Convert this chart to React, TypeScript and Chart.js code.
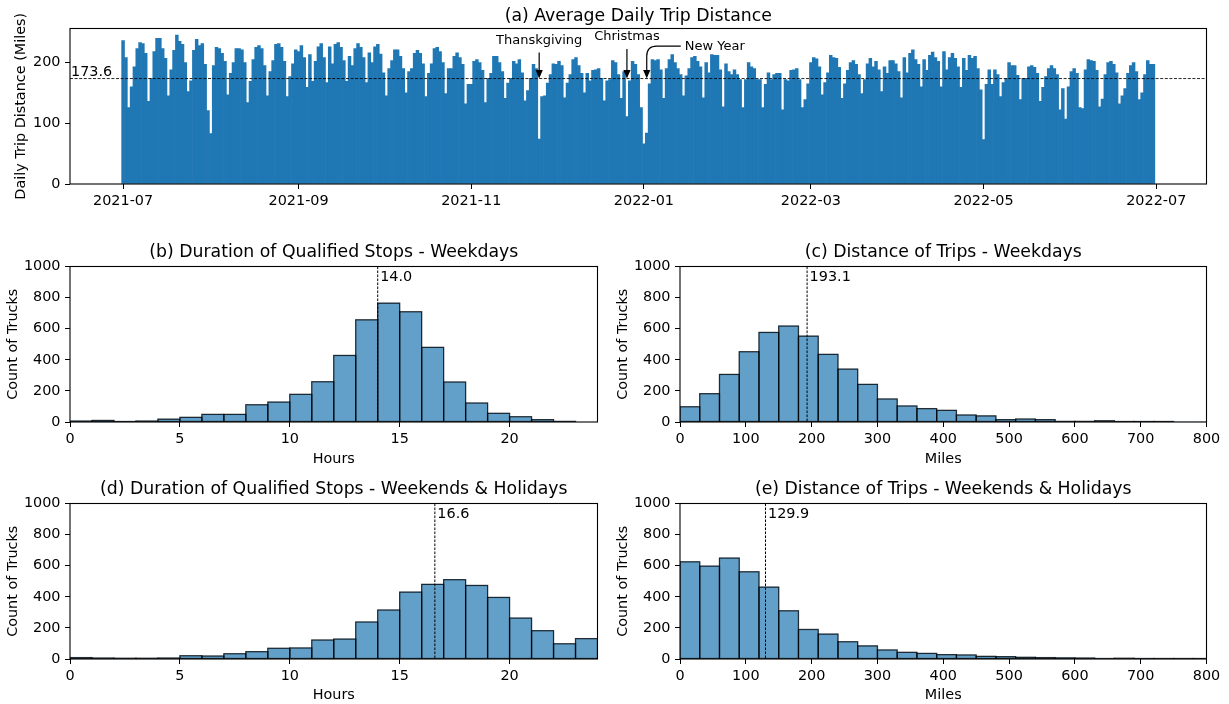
import React, { useEffect, useRef } from 'react';
import { Chart, registerables } from 'chart.js';

Chart.register(...registerables);

const PAGE_W = 1229;
const PAGE_H = 704;
const FONT = "'DejaVu Sans', 'Liberation Sans', sans-serif";

// ---------------- data ----------------
const firstDay = '2021-07-01';

const dailyTripDistance = [
  // Jul 2021
  236, 208, 126, 160, 193, 223, 233, 231, 215, 136, 174, 218, 240, 240, 223, 207, 145, 188, 220, 245,
  235, 230, 200, 152, 170, 220, 238, 228, 231, 197, 121,
  // Aug
  83, 195, 225, 223, 215, 202, 147, 182, 200, 223, 223, 221, 200, 134, 169, 205, 225, 228, 223, 195,
  145, 185, 203, 230, 231, 225, 202, 144, 177, 198, 221,
  // Sep
  218, 228, 208, 159, 213, 169, 202, 226, 231, 208, 167, 226, 198, 230, 233, 225, 203, 169, 210, 195,
  223, 231, 225, 208, 167, 216, 200, 226, 230, 214,
  // Oct
  183, 145, 190, 203, 221, 221, 210, 190, 150, 185, 190, 215, 220, 215, 198, 144, 182, 198, 223, 225,
  218, 200, 149, 190, 190, 210, 216, 208, 197, 132, 164,
  // Nov
  164, 202, 205, 200, 187, 134, 174, 182, 210, 210, 200, 185, 141, 166, 174, 202, 198, 205, 183, 137,
  154, 174, 197, 190, 74, 144, 145, 166, 180, 198,
  // Dec
  197, 202, 195, 142, 166, 180, 205, 208, 195, 182, 150, 182, 170, 187, 188, 190, 174, 137, 170, 172,
  203, 200, 180, 141, 185, 111, 170, 202, 197, 180, 126,
  // Jan 2022
  66, 84, 165, 205, 203, 205, 188, 141, 190, 205, 213, 200, 190, 180, 145, 178, 190, 208, 210, 202,
  193, 142, 200, 183, 213, 212, 212, 188, 127, 198, 185,
  // Feb
  180, 188, 180, 172, 126, 172, 200, 193, 190, 172, 172, 126, 164, 183, 172, 180, 182, 182, 122, 172,
  170, 187, 188, 190, 172, 126, 139, 165,
  // Mar
  200, 208, 206, 193, 147, 167, 183, 212, 208, 207, 192, 141, 165, 187, 200, 203, 197, 180, 149, 172,
  198, 207, 193, 202, 188, 152, 193, 182, 203, 203, 198,
  // Apr
  185, 142, 208, 183, 215, 221, 205, 197, 160, 205, 187, 212, 217, 208, 202, 160, 218, 188, 208, 215,
  207, 193, 159, 207, 187, 212, 207, 210, 190, 155,
  // May
  73, 164, 188, 164, 188, 180, 144, 167, 174, 200, 195, 195, 179, 139, 174, 174, 193, 195, 192, 182,
  136, 159, 177, 190, 195, 190, 180, 122, 157, 107, 160,
  // Jun
  185, 190, 182, 126, 124, 188, 205, 203, 202, 187, 127, 140, 180, 200, 202, 197, 183, 132, 145, 157,
  182, 195, 200, 185, 139, 150, 180, 203, 197, 197,
];
const meanDailyDistance = 173.6;
const distanceTickValues = [0, 100, 200];
const monthTickLabels = ['2021-07', '2021-09', '2021-11', '2022-01', '2022-03', '2022-05', '2022-07'];
const holidayLabels = ['Thanskgiving', 'Christmas', 'New Year'];
const holidayDayIndex = [147, 178, 185];

const hourBinWidth = 1;
const mileBinWidth = 30;
const weekdayStopHours = [6, 10, 2, 6, 18, 30, 49, 49, 111, 128, 178, 259, 428, 657, 764, 709, 480, 257, 122, 56, 34, 15, 4];
const weekdayTripMiles = [98, 182, 306, 452, 576, 617, 552, 435, 340, 242, 148, 103, 86, 75, 45, 39, 15, 19, 15, 4, 4, 8, 2, 1, 1, 0, 0];
const weekendStopHours = [9, 6, 5, 5, 6, 21, 19, 34, 47, 69, 71, 122, 128, 238, 315, 430, 480, 510, 473, 396, 263, 182, 98, 131];
const weekendTripMiles = [625, 597, 649, 561, 462, 310, 190, 160, 111, 84, 58, 43, 36, 28, 26, 17, 15, 11, 9, 7, 6, 3, 5, 2, 2, 1, 1];
const meanWeekdayStop = 14.0;
const meanWeekdayTrip = 193.1;
const meanWeekendStop = 16.6;
const meanWeekendTrip = 129.9;
const countTickValues = [0, 200, 400, 600, 800, 1000];
const hourTickValues = [0, 5, 10, 15, 20];
const mileTickValues = [0, 100, 200, 300, 400, 500, 600, 700, 800];

// ---------------- helpers ----------------
const dayOffset = (ym: string) => {
  const [y, m] = ym.split('-').map(Number);
  const [y0, m0, d0] = firstDay.split('-').map(Number);
  return Math.round((Date.UTC(y, m - 1, 1) - Date.UTC(y0, m0 - 1, d0)) / 86400000);
};

type Box = { l: number; r: number; t: number; b: number };

const BOX_A: Box = { l: 70, r: 1206.5, t: 28.5, b: 184 };
const BOX_B: Box = { l: 70, r: 597.5, t: 266.5, b: 422 };
const BOX_C: Box = { l: 680, r: 1206.5, t: 266.5, b: 422 };
const BOX_D: Box = { l: 70, r: 597.5, t: 503.5, b: 659 };
const BOX_E: Box = { l: 680, r: 1206.5, t: 503.5, b: 659 };

const SZ_TICK = 14.4;
const SZ_TITLE = 17.3;
const SZ_LABEL = 14.4;
const SZ_NOTE = 13;
const TICK_FONT = { family: FONT, size: SZ_TICK };

type Panel = {
  box: Box;
  xMin: number;
  xMax: number;
  xTicks: number[];
  xTickLabel: (v: number, i: number) => string;
  yMax: number;
  yTicks: number[];
  points: { x: number; y: number }[];
  fill: string;
  edges: boolean;
  title: string;
  titleBaseline: number;
  xLabel?: string;
  xLabelBaseline?: number;
  yLabel: string;
  yLabelX: number;
  extra: (chart: any) => void;
};

function textAt(ctx: CanvasRenderingContext2D, s: string, x: number, y: number, size: number, align: CanvasTextAlign, baseline: CanvasTextBaseline) {
  ctx.font = `${size}px ${FONT}`;
  ctx.fillStyle = '#000';
  ctx.textAlign = align;
  ctx.textBaseline = baseline;
  ctx.fillText(s, x, y);
}

function arrowHead(ctx: CanvasRenderingContext2D, x: number, y: number) {
  ctx.beginPath();
  ctx.moveTo(x, y);
  ctx.lineTo(x - 3.6, y - 8.5);
  ctx.lineTo(x + 3.6, y - 8.5);
  ctx.closePath();
  ctx.fill();
}

function buildConfig(p: Panel): any {
  const plugin = {
    id: 'decor',
    afterDatasetsDraw(chart: any) {
      if (!p.edges) return;
      const ctx = chart.ctx as CanvasRenderingContext2D;
      const ca = chart.chartArea;
      const meta = chart.getDatasetMeta(0);
      ctx.save();
      ctx.beginPath();
      ctx.rect(ca.left, ca.top, ca.right - ca.left, ca.bottom - ca.top);
      ctx.clip();
      ctx.strokeStyle = 'rgba(0,0,0,0.75)';
      ctx.lineWidth = 1.3;
      meta.data.forEach((el: any) => {
        const { x, y, base, width } = el.getProps(['x', 'y', 'base', 'width'], true);
        if (Math.abs(base - y) < 0.01) return;
        ctx.strokeRect(x - width / 2, y, width, base - y);
      });
      ctx.restore();
    },
    afterDraw(chart: any) {
      const ctx = chart.ctx as CanvasRenderingContext2D;
      const ca = chart.chartArea;
      ctx.save();
      p.extra(chart);
      // frame
      ctx.setLineDash([]);
      ctx.strokeStyle = '#000';
      ctx.lineWidth = 1.1;
      ctx.strokeRect(ca.left, ca.top, ca.right - ca.left, ca.bottom - ca.top);
      const cx = (ca.left + ca.right) / 2;
      const cy = (ca.top + ca.bottom) / 2;
      textAt(ctx, p.title, cx, p.titleBaseline, SZ_TITLE, 'center', 'alphabetic');
      if (p.xLabel) textAt(ctx, p.xLabel, cx, p.xLabelBaseline as number, SZ_LABEL, 'center', 'alphabetic');
      ctx.save();
      ctx.translate(p.yLabelX + 5.2, cy);
      ctx.rotate(-Math.PI / 2);
      textAt(ctx, p.yLabel, 0, 0, SZ_LABEL, 'center', 'alphabetic');
      ctx.restore();
      ctx.restore();
    },
  };

  const gridOpts = {
    display: true,
    drawOnChartArea: false,
    drawTicks: true,
    tickLength: 5,
    color: '#000',
    lineWidth: 1,
    offset: false,
  };

  return {
    type: 'bar',
    data: {
      datasets: [
        {
          data: p.points,
          backgroundColor: p.fill,
          borderWidth: 0,
          barPercentage: 1,
          categoryPercentage: 1,
        },
      ],
    },
    options: {
      responsive: false,
      animation: false,
      events: [],
      layout: { padding: { left: 0, top: p.box.t, right: PAGE_W - p.box.r, bottom: 0 } },
      plugins: { legend: { display: false }, tooltip: { enabled: false }, title: { display: false } },
      scales: {
        x: {
          type: 'linear',
          min: p.xMin,
          max: p.xMax,
          offset: false,
          grid: gridOpts,
          border: { display: false },
          ticks: {
            font: TICK_FONT,
            color: '#000',
            padding: 3.5,
            maxRotation: 0,
            autoSkip: false,
            callback: (v: number, i: number) => p.xTickLabel(v, i),
          },
          afterBuildTicks: (s: any) => {
            s.ticks = p.xTicks.map((v) => ({ value: v }));
          },
          afterFit: (s: any) => {
            s.height = PAGE_H - p.box.b;
          },
        },
        y: {
          type: 'linear',
          min: 0,
          max: p.yMax,
          grid: gridOpts,
          border: { display: false },
          ticks: {
            font: TICK_FONT,
            color: '#000',
            padding: 4.5,
            callback: (v: number) => String(v),
          },
          afterBuildTicks: (s: any) => {
            s.ticks = p.yTicks.map((v) => ({ value: v }));
          },
          afterFit: (s: any) => {
            s.width = p.box.l;
          },
        },
      },
    },
    plugins: [plugin],
  };
}

function meanLineExtra(mean: number) {
  return (chart: any) => {
    const ctx = chart.ctx as CanvasRenderingContext2D;
    const ca = chart.chartArea;
    const px = chart.scales.x.getPixelForValue(mean);
    ctx.save();
    ctx.strokeStyle = '#000';
    ctx.lineWidth = 1;
    ctx.setLineDash([2.6, 1.4]);
    ctx.beginPath();
    ctx.moveTo(px, ca.top);
    ctx.lineTo(px, ca.bottom);
    ctx.stroke();
    ctx.restore();
    textAt(ctx, mean.toFixed(1), px + 2.5, chart.scales.y.getPixelForValue(932), SZ_TICK, 'left', 'middle');
  };
}

function dailyExtra(chart: any) {
  const ctx = chart.ctx as CanvasRenderingContext2D;
  const ca = chart.chartArea;
  const xs = chart.scales.x;
  const ys = chart.scales.y;
  const yPix = ys.getPixelForValue(meanDailyDistance);
  ctx.save();
  ctx.strokeStyle = 'rgba(0,0,0,0.85)';
  ctx.lineWidth = 1;
  ctx.setLineDash([3, 1.6]);
  ctx.beginPath();
  ctx.moveTo(ca.left, yPix);
  ctx.lineTo(ca.right, yPix);
  ctx.stroke();
  ctx.restore();
  textAt(ctx, meanDailyDistance.toFixed(1), ca.left + 1, yPix - 2.5, SZ_TICK, 'left', 'alphabetic');

  ctx.save();
  ctx.strokeStyle = '#000';
  ctx.fillStyle = '#000';
  ctx.lineWidth = 1.2;
  ctx.setLineDash([]);
  holidayLabels.forEach((label, i) => {
    const tx = xs.getPixelForValue(holidayDayIndex[i]);
    const ty = yPix;
    if (i === 0) {
      textAt(ctx, label, tx, ty - 34.5, SZ_NOTE, 'center', 'alphabetic');
      ctx.beginPath();
      ctx.moveTo(tx, ty - 26);
      ctx.lineTo(tx, ty - 7);
      ctx.stroke();
      arrowHead(ctx, tx, ty);
    } else if (i === 1) {
      textAt(ctx, label, tx, ty - 38.3, SZ_NOTE, 'center', 'alphabetic');
      ctx.beginPath();
      ctx.moveTo(tx, ty - 29.5);
      ctx.lineTo(tx, ty - 7);
      ctx.stroke();
      arrowHead(ctx, tx, ty);
    } else {
      textAt(ctx, label, tx + 38, ty - 28.5, SZ_NOTE, 'left', 'alphabetic');
      const sy = ty - 32.5;
      ctx.beginPath();
      ctx.moveTo(tx + 34, sy);
      ctx.lineTo(tx + 10, sy);
      ctx.quadraticCurveTo(tx, sy, tx, sy + 10);
      ctx.lineTo(tx, ty - 7);
      ctx.stroke();
      arrowHead(ctx, tx, ty);
    }
  });
  ctx.restore();
}

const histPoints = (counts: number[], width: number) =>
  counts.map((c, i) => ({ x: (i + 0.5) * width, y: c }));

const panels: Panel[] = [
  {
    box: BOX_A,
    xMin: -18.75,
    xMax: 382.75,
    xTicks: monthTickLabels.map(dayOffset),
    xTickLabel: (_v, i) => monthTickLabels[i],
    yMax: 256,
    yTicks: distanceTickValues,
    points: dailyTripDistance.map((v, i) => ({ x: i, y: v })),
    fill: '#1f77b4',
    edges: false,
    title: '(a) Average Daily Trip Distance',
    titleBaseline: 21,
    yLabel: 'Daily Trip Distance (Miles)',
    yLabelX: 20,
    extra: dailyExtra,
  },
  {
    box: BOX_B,
    xMin: 0,
    xMax: 24,
    xTicks: hourTickValues,
    xTickLabel: (v) => String(v),
    yMax: 1000,
    yTicks: countTickValues,
    points: histPoints(weekdayStopHours, hourBinWidth),
    fill: 'rgba(31,119,180,0.7)',
    edges: true,
    title: '(b) Duration of Qualified Stops - Weekdays',
    titleBaseline: 257,
    xLabel: 'Hours',
    xLabelBaseline: 463,
    yLabel: 'Count of Trucks',
    yLabelX: 12,
    extra: meanLineExtra(meanWeekdayStop),
  },
  {
    box: BOX_C,
    xMin: 0,
    xMax: 800,
    xTicks: mileTickValues,
    xTickLabel: (v) => String(v),
    yMax: 1000,
    yTicks: countTickValues,
    points: histPoints(weekdayTripMiles, mileBinWidth),
    fill: 'rgba(31,119,180,0.7)',
    edges: true,
    title: '(c) Distance of Trips - Weekdays',
    titleBaseline: 257,
    xLabel: 'Miles',
    xLabelBaseline: 463,
    yLabel: 'Count of Trucks',
    yLabelX: 622,
    extra: meanLineExtra(meanWeekdayTrip),
  },
  {
    box: BOX_D,
    xMin: 0,
    xMax: 24,
    xTicks: hourTickValues,
    xTickLabel: (v) => String(v),
    yMax: 1000,
    yTicks: countTickValues,
    points: histPoints(weekendStopHours, hourBinWidth),
    fill: 'rgba(31,119,180,0.7)',
    edges: true,
    title: '(d) Duration of Qualified Stops - Weekends & Holidays',
    titleBaseline: 494,
    xLabel: 'Hours',
    xLabelBaseline: 699,
    yLabel: 'Count of Trucks',
    yLabelX: 12,
    extra: meanLineExtra(meanWeekendStop),
  },
  {
    box: BOX_E,
    xMin: 0,
    xMax: 800,
    xTicks: mileTickValues,
    xTickLabel: (v) => String(v),
    yMax: 1000,
    yTicks: countTickValues,
    points: histPoints(weekendTripMiles, mileBinWidth),
    fill: 'rgba(31,119,180,0.7)',
    edges: true,
    title: '(e) Distance of Trips - Weekends & Holidays',
    titleBaseline: 494,
    xLabel: 'Miles',
    xLabelBaseline: 699,
    yLabel: 'Count of Trucks',
    yLabelX: 622,
    extra: meanLineExtra(meanWeekendTrip),
  },
];

function PanelCanvas({ panel }: { panel: Panel }) {
  const ref = useRef<HTMLCanvasElement | null>(null);
  useEffect(() => {
    if (!ref.current) return;
    const chart = new Chart(ref.current, buildConfig(panel));
    return () => chart.destroy();
  }, [panel]);
  return (
    <canvas
      ref={ref}
      width={PAGE_W}
      height={PAGE_H}
      style={{ position: 'absolute', left: 0, top: 0, width: PAGE_W, height: PAGE_H }}
    />
  );
}

export default function App() {
  return (
    <div
      style={{
        position: 'absolute',
        left: 0,
        top: 0,
        width: PAGE_W,
        height: PAGE_H,
        background: '#fff',
        overflow: 'hidden',
      }}
    >
      {panels.map((p, i) => (
        <PanelCanvas key={i} panel={p} />
      ))}
    </div>
  );
}
